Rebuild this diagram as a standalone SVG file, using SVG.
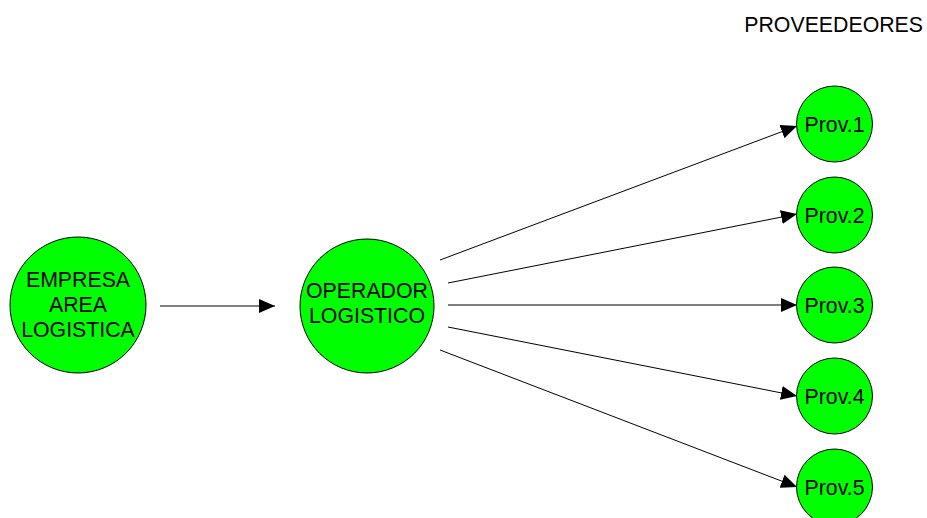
<svg xmlns="http://www.w3.org/2000/svg" width="927" height="518" viewBox="0 0 927 518">
  <style>
    .node { fill: #00ff00; stroke: #000; stroke-width: 1; }
    .lbl { font-family: "Liberation Sans", Arial, sans-serif; font-size: 21.3px; fill: #000; text-anchor: middle; }
    .edge { stroke: #000; stroke-width: 1; fill: none; marker-end: url(#arrow); }
  </style>
  <defs>
    <marker id="arrow" markerUnits="userSpaceOnUse" markerWidth="16" markerHeight="14" viewBox="0 0 16 14" refX="16" refY="7" orient="auto">
      <path d="M0,0 L16,7 L0,14 Z" fill="#000"/>
    </marker>
  </defs>

  <rect width="927" height="518" fill="#fff"/>

  <text x="923" y="32" class="lbl" style="text-anchor:end">PROVEEDEORES</text>

  <g id="connectors">
    <line class="edge" x1="160" y1="306" x2="275" y2="306"/>
    <line class="edge" x1="440" y1="260" x2="797" y2="126"/>
    <line class="edge" x1="448" y1="283" x2="797" y2="214"/>
    <line class="edge" x1="448" y1="305" x2="797" y2="305"/>
    <line class="edge" x1="448" y1="327" x2="797" y2="396"/>
    <line class="edge" x1="440" y1="350" x2="797" y2="487"/>
  </g>

  <g id="empresa">
    <circle class="node" cx="78" cy="305" r="68"/>
    <text class="lbl" x="78" y="287">EMPRESA</text>
    <text class="lbl" x="78" y="312">AREA</text>
    <text class="lbl" x="78" y="337">LOGISTICA</text>
  </g>

  <g id="operador">
    <circle class="node" cx="367" cy="306" r="67"/>
    <text class="lbl" x="367" y="298">OPERADOR</text>
    <text class="lbl" x="367" y="323">LOGISTICO</text>
  </g>

  <g id="prov1">
    <circle class="node" cx="834.5" cy="124" r="38"/>
    <text class="lbl" x="834.5" y="132">Prov.1</text>
  </g>
  <g id="prov2">
    <circle class="node" cx="834.5" cy="215" r="38"/>
    <text class="lbl" x="834.5" y="223">Prov.2</text>
  </g>
  <g id="prov3">
    <circle class="node" cx="834.5" cy="305" r="38"/>
    <text class="lbl" x="834.5" y="313">Prov.3</text>
  </g>
  <g id="prov4">
    <circle class="node" cx="834.5" cy="396" r="38"/>
    <text class="lbl" x="834.5" y="404">Prov.4</text>
  </g>
  <g id="prov5">
    <circle class="node" cx="834.5" cy="487" r="38"/>
    <text class="lbl" x="834.5" y="495">Prov.5</text>
  </g>
</svg>
